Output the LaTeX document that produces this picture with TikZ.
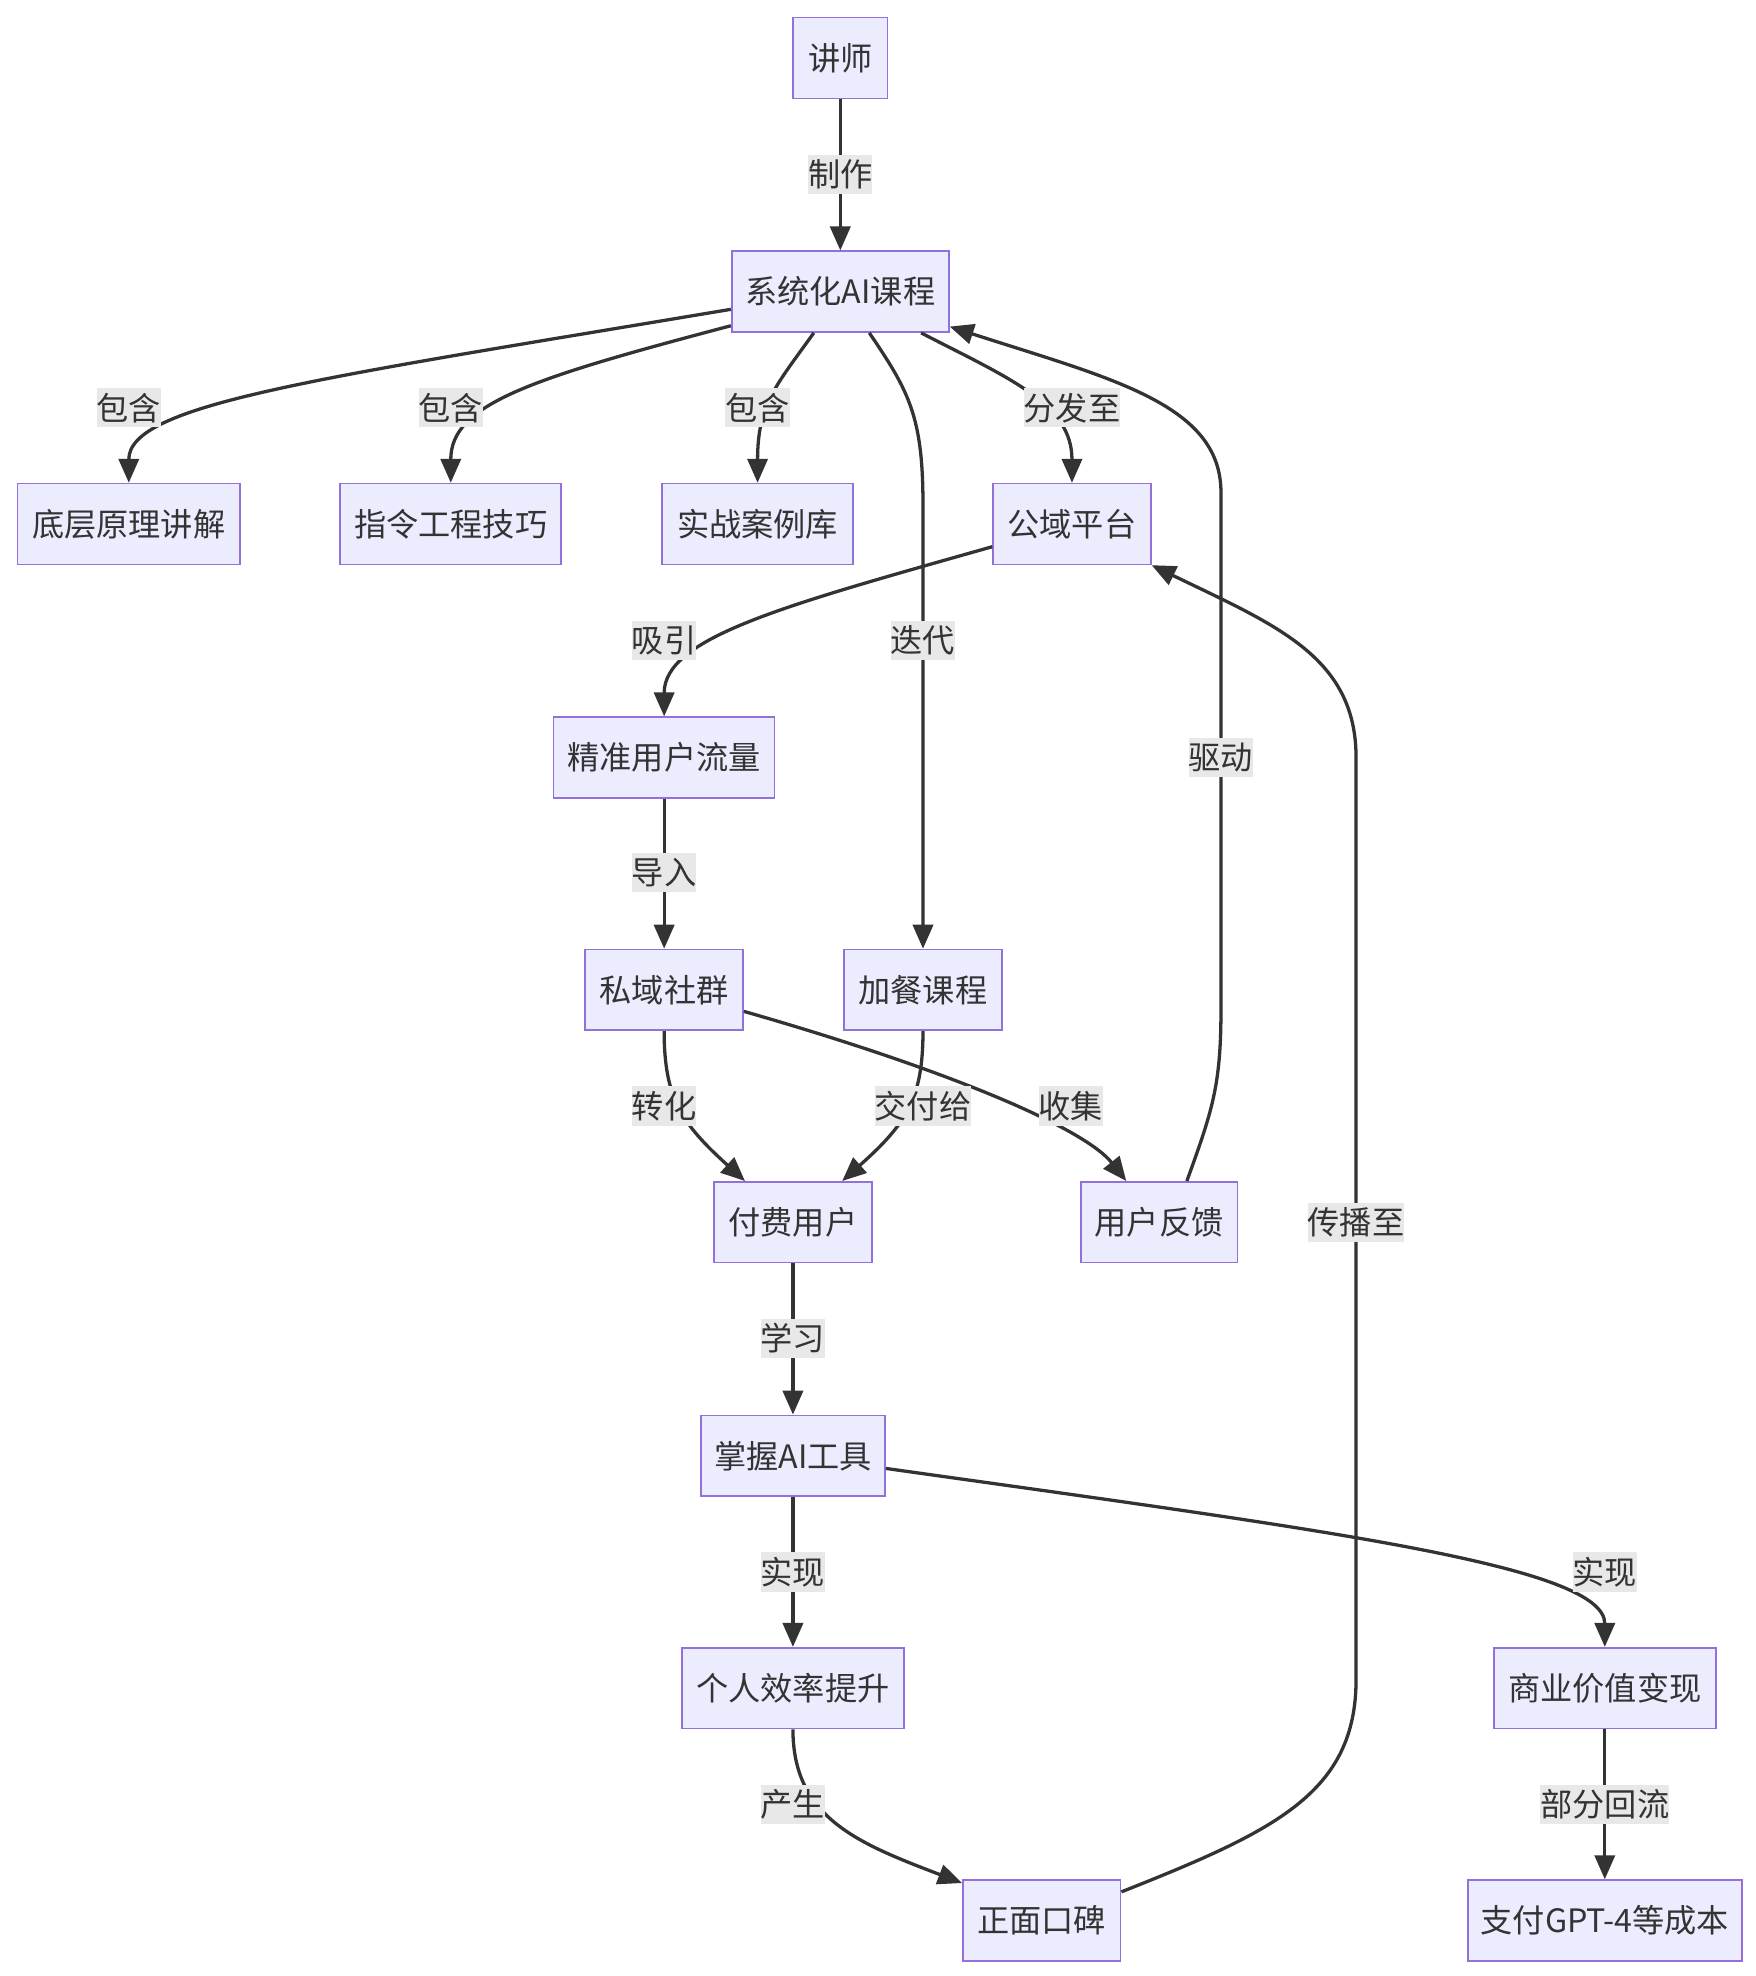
\documentclass[tikz,border=0pt]{standalone}
\usepackage{fontspec}
\setmainfont{Noto Sans CJK SC}
\usetikzlibrary{arrows.meta}
\definecolor{nodefill}{HTML}{ECECFF}
\definecolor{nodeline}{HTML}{9370DB}
\definecolor{edgec}{HTML}{333333}
\definecolor{labelbg}{HTML}{E8E8E8}
\definecolor{txt}{HTML}{333333}
\begin{document}
\begin{tikzpicture}[x=1pt,y=-1pt,
 box/.style={rectangle, draw=nodeline, fill=nodefill, line width=1.3pt, minimum height=64pt, inner sep=0pt, text=txt, font=\fontsize{25.5}{30}\selectfont},
 elabel/.style={rectangle, fill=labelbg, inner xsep=0pt, inner ysep=0pt, minimum height=31pt, text=txt, font=\fontsize{25.5}{30}\selectfont},
 edge/.style={draw=edgec, line width=2.6pt, -{Triangle[length=19pt,width=16pt]}},
]
\useasboundingbox[fill=white] (0,0) rectangle (1390,1565);

% nodes
\node[box, minimum width=75pt]  (teacher) at (665.5,46)   {讲师};
\node[box, minimum width=172pt] (sys)     at (665.5,231)  {系统化AI课程};
\node[box, minimum width=176pt] (base)    at (102,415)  {底层原理讲解};
\node[box, minimum width=175pt] (instr)   at (357,415)  {指令工程技巧};
\node[box, minimum width=151pt] (case)    at (600,415)  {实战案例库};
\node[box, minimum width=125pt] (pub)     at (849,415)  {公域平台};
\node[box, minimum width=175pt] (traffic) at (526,600)  {精准用户流量};
\node[box, minimum width=125pt] (priv)    at (526,784)  {私域社群};
\node[box, minimum width=125pt] (extra)   at (731,784)  {加餐课程};
\node[box, minimum width=125pt] (pay)     at (628,968)  {付费用户};
\node[box, minimum width=124pt] (fb)      at (918,968)  {用户反馈};
\node[box, minimum width=146pt] (tool)    at (628,1153) {掌握AI工具};
\node[box, minimum width=176pt] (eff)     at (628,1337) {个人效率提升};
\node[box, minimum width=176pt] (biz)     at (1271,1337) {商业价值变现};
\node[box, minimum width=125pt] (word)    at (825,1521) {正面口碑};
\node[box, minimum width=217pt] (cost)    at (1271,1521) {支付GPT-4等成本};

% edges
\draw[edge] (teacher.south) -- (sys.north);
\draw[edge] ([yshift=-14pt]sys.west) .. controls (250,300) and (102,320) .. (base.north);
\draw[edge] ([yshift=-27pt]sys.west) .. controls (420,300) and (357,320) .. (instr.north);
\draw[edge] ([xshift=-21pt]sys.south) .. controls (615,305) and (600,320) .. (case.north);
\draw[edge] ([xshift=23pt]sys.south) .. controls (720,310) and (731,330) .. (731,400) -- (extra.north);
\draw[edge] ([xshift=64pt]sys.south) .. controls (800,300) and (849,320) .. (pub.north);
\draw[edge] ([xshift=22pt]fb.north) .. controls (960,880) and (967,860) .. (967,800) -- (967,390) .. controls (967,320) and (880,300) .. ([yshift=5pt]sys.south east);
\draw[edge] ([yshift=-18pt]pub.west) .. controls (620,480) and (526,505) .. (traffic.north);
\draw[edge] (traffic.south) -- (priv.north);
\draw[edge] (priv.south) .. controls (526,870) and (540,890) .. ([xshift=-38pt]pay.north);
\draw[edge] (extra.south) .. controls (731,870) and (718,890) .. ([xshift=39pt]pay.north);
\draw[edge] ([yshift=-17pt]priv.east) .. controls (760,850) and (860,895) .. ([xshift=-26pt]fb.north);
\draw[edge] (pay.south) -- (tool.north);
\draw[edge] (tool.south) -- (eff.north);
\draw[edge] ([yshift=-10pt]tool.east) .. controls (1050,1212) and (1271,1240) .. (biz.north);
\draw[edge] (eff.south) .. controls (628,1440) and (680,1460) .. ([yshift=-3pt]word.north west);
\draw[edge] ([yshift=-10pt]word.north east) .. controls (1010,1450) and (1074,1420) .. (1074,1330) -- (1074,600) .. controls (1074,520) and (1010,495) .. (pub.south east);
\draw[edge] (biz.south) -- (cost.north);

% edge labels
\node[elabel] (l1)  at (665.5,138)  {制作};
\node[elabel] (l2)  at (102,323)  {包含};
\node[elabel] (l3)  at (357,323)  {包含};
\node[elabel] (l4)  at (600,323)  {包含};
\node[elabel] (l5)  at (849,323)  {分发至};
\node[elabel] (l6)  at (731,507)  {迭代};
\node[elabel] (l7)  at (526,507)  {吸引};
\node[elabel] (l8)  at (967,600)  {驱动};
\node[elabel] (l9)  at (526,691)  {导入};
\node[elabel] (l10) at (526,876)  {转化};
\node[elabel] (l11) at (731,876)  {交付给};
\node[elabel] (l12) at (848,876)  {收集};
\node[elabel] (l13) at (1074,968) {传播至};
\node[elabel] (l14) at (628,1060) {学习};
\node[elabel] (l15) at (628,1245) {实现};
\node[elabel] (l16) at (1271,1245) {实现};
\node[elabel] (l17) at (628,1429) {产生};
\node[elabel] (l18) at (1271,1429) {部分回流};
\end{tikzpicture}
\end{document}
